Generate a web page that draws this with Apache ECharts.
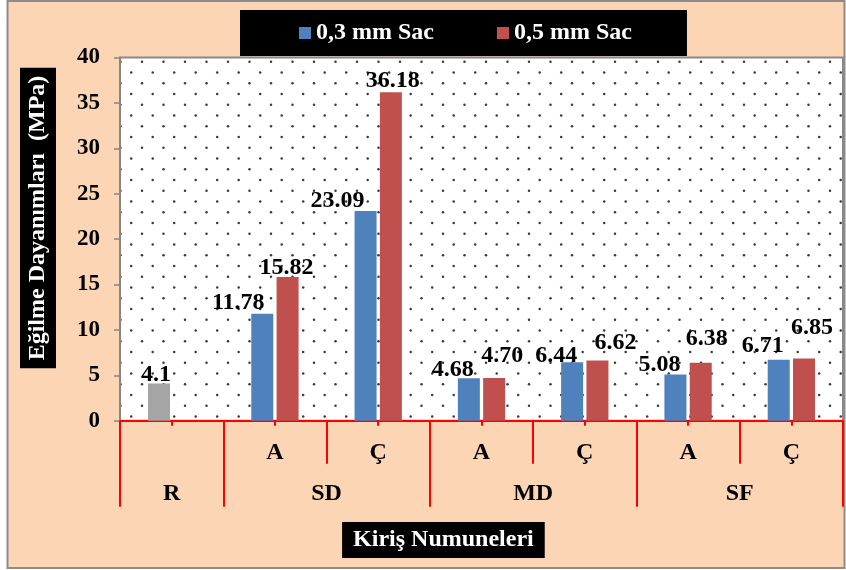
<!DOCTYPE html>
<html>
<head>
<meta charset="utf-8">
<script src="https://cdn.jsdelivr.net/npm/echarts@6/dist/echarts.min.js"></script>
<style>
  html, body { margin: 0; padding: 0; background: #ffffff; }
  #chart { width: 846px; height: 570px; }
</style>
</head>
<body>
<div id="chart"></div>
<script>
// Beam groups (outer axis level) and how many samples each spans
const groups = ['R', 'SD', 'MD', 'SF'];
const groupSpans = [1, 2, 2, 2];
// Sample names (inner axis level)
const samples = ['', 'A', 'Ç', 'A', 'Ç', 'A', 'Ç'];
// Reference beam R (no sheet)
const referenceValue = 4.1;
// Flexural strengths, MPa
const sheet03 = [null, 11.78, 23.09, 4.68, 6.44, 5.08, 6.71];
const sheet05 = [null, 15.82, 36.18, 4.70, 6.62, 6.38, 6.85];
const seriesNames = ['0,3 mm Sac', '0,5 mm Sac'];
// Value axis ticks
const yMin = 0, yMax = 40, yStep = 5;

// Label nudges [dx, dy] relative to bar top (layout only)
const shift03 = [[-3, -9], [-24, -11], [-28, -10], [-16, -8], [-16, -6], [-16, -10], [-16, -14]];
const shift05 = [null, [-1, -9], [2, -11], [8, -22], [18, -18], [6, -24], [8, -31]];

const FONT = '"Liberation Serif", "Times New Roman", serif';
const PEACH = '#FCD5B4';
const BLUE = '#4F81BD', RED = '#C0504D', GREY = '#A5A5A5';
const AXIS_RED = '#FF0000';

// Boundaries and centres of the outer groups, in sample units
const groupEdges = [0];
groupSpans.forEach(s => groupEdges.push(groupEdges[groupEdges.length - 1] + s));
const groupCentres = groups.map((g, i) => (groupEdges[i] + groupEdges[i + 1]) / 2);

// Dotted plot-area fill
function dotTile() {
  const c = document.createElement('canvas');
  c.width = 43; c.height = 43;
  const ctx = c.getContext('2d');
  ctx.fillStyle = '#ffffff';
  ctx.fillRect(0, 0, 43, 43);
  ctx.fillStyle = '#3a3a3a';
  const rows = [[18.7, [34.5, 13]], [40.2, [34.5, 13]], [29.45, [2.2, 23.7]], [7.95, [2.2, 23.7]]];
  rows.forEach(([y, xs]) => xs.forEach(x => {
    for (let dx = -43; dx <= 43; dx += 43) {
      for (let dy = -43; dy <= 43; dy += 43) {
        ctx.beginPath();
        ctx.arc(x + dx, y + dy, 1.25, 0, Math.PI * 2);
        ctx.fill();
      }
    }
  }));
  return c;
}

const labelBase = {
  show: true,
  position: 'top',
  distance: 0,
  verticalAlign: 'middle',
  color: '#000',
  fontFamily: FONT,
  fontWeight: 'bold',
  fontSize: 24,
  formatter: p => p.value.toFixed(2)
};

const data03 = sheet03.map((v, i) => {
  if (i === 0) {
    return {
      value: referenceValue,
      itemStyle: { color: GREY },
      label: Object.assign({}, labelBase, { offset: shift03[i], formatter: () => referenceValue.toFixed(1) })
    };
  }
  return { value: v, label: Object.assign({}, labelBase, { offset: shift03[i] }) };
});
const data05 = sheet05.map((v, i) => (v == null ? null : {
  value: v,
  label: Object.assign({}, labelBase, { offset: shift05[i] })
}));

const chart = echarts.init(document.getElementById('chart'), null, { renderer: 'canvas' });

const redLine = { color: AXIS_RED, width: 2 };

chart.setOption({
  backgroundColor: '#ffffff',
  animation: false,
  textStyle: { fontFamily: FONT },
  legend: {
    data: seriesNames,
    left: 240,
    top: 10,
    backgroundColor: '#000000',
    padding: [11, 55, 11, 59],
    itemGap: 63,
    itemWidth: 12,
    itemHeight: 12,
    icon: 'rect',
    textStyle: { color: '#ffffff', fontFamily: FONT, fontWeight: 'bold', fontSize: 24 }
  },
  grid: {
    left: 120, right: 3, top: 57.5, bottom: 149.3,
    show: true,
    backgroundColor: { image: dotTile(), repeat: 'repeat' },
    borderColor: '#898989',
    borderWidth: 2
  },
  xAxis: [
    {
      type: 'category',
      data: samples,
      position: 'bottom',
      axisLine: { show: true, onZero: false, lineStyle: redLine },
      axisTick: { show: true, length: 43, lineStyle: redLine },
      axisLabel: { interval: 0, margin: 20, color: '#000', fontFamily: FONT, fontWeight: 'bold', fontSize: 24 },
      splitLine: { show: false }
    },
    {
      type: 'category',
      data: samples,
      position: 'bottom',
      axisLine: { show: false, onZero: false },
      axisTick: { show: true, alignWithLabel: true, length: 5, lineStyle: redLine },
      axisLabel: { show: false },
      splitLine: { show: false }
    },
    {
      type: 'value',
      min: 0,
      max: groupEdges[groupEdges.length - 1],
      position: 'bottom',
      axisLine: { show: false, onZero: false },
      axisTick: { show: true, customValues: groupEdges, length: 86, lineStyle: redLine },
      axisLabel: {
        customValues: groupCentres,
        margin: 61,
        color: '#000', fontFamily: FONT, fontWeight: 'bold', fontSize: 24,
        formatter: v => groups[groupCentres.indexOf(v)] || ''
      },
      splitLine: { show: false }
    }
  ],
  yAxis: {
    type: 'value',
    min: yMin, max: yMax, interval: yStep,
    axisLine: { show: true, lineStyle: { color: '#868686', width: 2 } },
    axisTick: { show: true, length: 6, lineStyle: { color: '#868686', width: 1.5 } },
    axisLabel: { margin: 20, color: '#000', fontFamily: FONT, fontWeight: 'bold', fontSize: 23 },
    splitLine: { show: false }
  },
  series: [
    {
      name: seriesNames[0], type: 'bar', xAxisIndex: 0, data: data03,
      barWidth: 22, barGap: '15%',
      itemStyle: { color: BLUE }
    },
    {
      name: seriesNames[1], type: 'bar', xAxisIndex: 0, data: data05,
      barWidth: 22, barGap: '15%',
      itemStyle: { color: RED }
    }
  ],
  graphic: [
    {
      type: 'rect', z: -10, silent: true,
      shape: { x: 7.5, y: 1, width: 837, height: 567 },
      style: { fill: PEACH, stroke: '#8c8c8c', lineWidth: 2 }
    },
    {
      type: 'text', x: 38, y: 218, rotation: Math.PI / 2, z: 10,
      style: {
        text: 'Eğilme Dayanımları  (MPa)',
        fill: '#ffffff',
        font: 'bold 24px ' + FONT,
        align: 'center', verticalAlign: 'middle',
        backgroundColor: '#000000',
        padding: [6, 8], lineHeight: 24
      }
    },
    {
      type: 'text', x: 443.4, y: 540, z: 10,
      style: {
        text: 'Kiriş Numuneleri',
        fill: '#ffffff',
        font: 'bold 24px ' + FONT,
        align: 'center', verticalAlign: 'middle',
        backgroundColor: '#000000',
        padding: [6, 11], lineHeight: 24
      }
    }
  ]
});
</script>
</body>
</html>
